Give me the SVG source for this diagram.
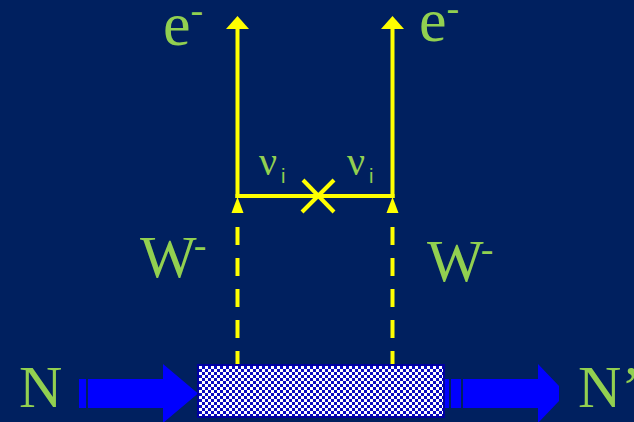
<svg xmlns="http://www.w3.org/2000/svg" width="634" height="422" viewBox="0 0 634 422">
<style>
.lbl{font-family:"Liberation Serif","Times New Roman",serif;fill:#92d050;}
.sans{font-family:"Liberation Sans",Arial,sans-serif;fill:#92d050;}
.yl{stroke:#ffff00;stroke-width:4;fill:none;}
.dash{stroke:#ffff00;stroke-width:4;fill:none;stroke-dasharray:18 13;}
.yf{fill:#ffff00;}
.bl{fill:#0000ff;}
</style>
<defs>
<pattern id="chk" width="6" height="6" patternUnits="userSpaceOnUse" x="199" y="366">
<rect width="6" height="6" fill="#0808c0"/>
<rect width="3" height="3" fill="#ffffff"/>
<rect x="3" y="3" width="3" height="3" fill="#ffffff"/>
</pattern>
</defs>
<rect width="634" height="422" fill="#00205f"/>
<g id="connectors">
<line class="yl" x1="237.5" y1="198" x2="237.5" y2="28"/>
<polygon class="yf" points="237.5,16 226,29 249,29"/>
<line class="yl" x1="392.5" y1="198" x2="392.5" y2="28"/>
<polygon class="yf" points="392.5,16 381,29 404,29"/>
<line class="yl" x1="235.5" y1="196" x2="394.5" y2="196"/>
<line class="dash" x1="237.5" y1="227" x2="237.5" y2="365"/>
<polygon class="yf" points="237.5,197 231.5,213 243.5,213"/>
<line class="dash" x1="392.5" y1="227" x2="392.5" y2="365"/>
<polygon class="yf" points="392.5,197 386.5,213 398.5,213"/>
</g>
<g id="cross">
<line class="yl" stroke-width="6" x1="303" y1="180" x2="334" y2="212"/>
<line class="yl" stroke-width="6" x1="334" y1="180" x2="302" y2="212"/>
</g>
<g id="arrow-in">
<rect class="bl" x="79" y="379" width="7" height="29"/>
<polygon class="bl" points="88,379 163,379 163,364 198,393.5 163,423 163,408 88,408"/>
</g>
<g id="arrow-out">
<rect class="bl" x="443" y="379" width="6" height="29"/>
<rect class="bl" x="451" y="379" width="10" height="29"/>
<polygon class="bl" points="463,379 538,379 538,364 559,386 559,401 538,423 538,408 463,408"/>
</g>
<g id="nucleus">
<rect x="198" y="365" width="246" height="52" fill="url(#chk)" stroke="#0000a0" stroke-width="2"/>
</g>
<g id="labels">
<text class="lbl" x="163" y="45" font-size="62">e<tspan font-size="38" dy="-22">-</tspan></text>
<text class="lbl" x="419" y="41" font-size="62">e<tspan font-size="38" dy="-20">-</tspan></text>
<text class="lbl" x="140" y="277" font-size="60">W<tspan font-size="38" dx="-3" dy="-19">-</tspan></text>
<text class="lbl" x="427" y="281" font-size="60">W<tspan font-size="38" dx="-3" dy="-19">-</tspan></text>
<text class="lbl" x="259" y="175" font-size="40">ν</text>
<text class="sans" x="281" y="183" font-size="20">i</text>
<text class="lbl" x="347" y="175" font-size="40">ν</text>
<text class="sans" x="369" y="183" font-size="20">i</text>
<text class="lbl" x="19" y="407" font-size="60">N</text>
<text class="lbl" x="578" y="407" font-size="60">N’</text>
</g>
</svg>
